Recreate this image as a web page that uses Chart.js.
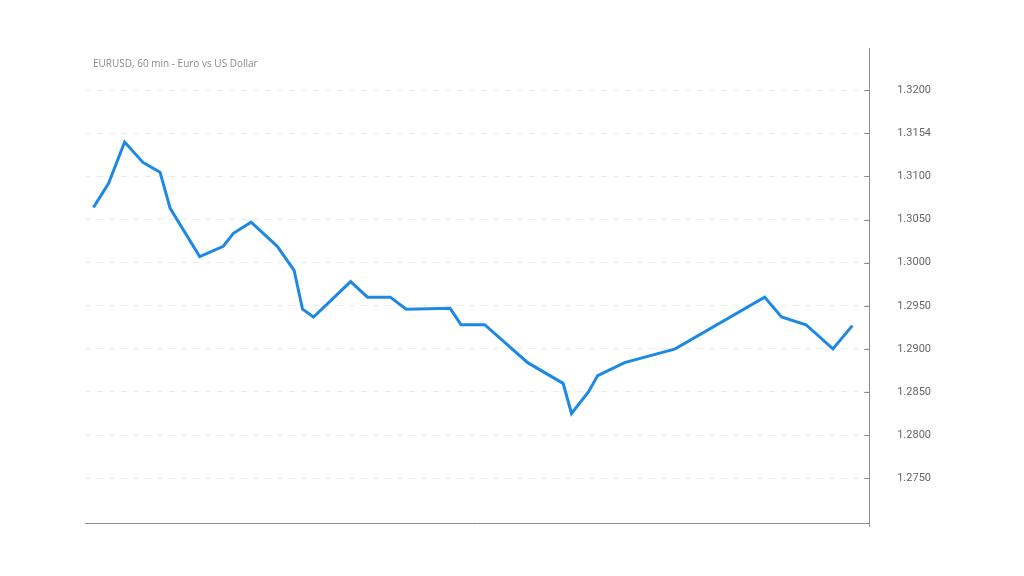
<!DOCTYPE html>
<html>
<head>
<meta charset="utf-8">
<script src="https://cdn.jsdelivr.net/npm/chart.js@4"></script>
<style>
  body { margin: 0; background: #fff; }
  #wrap { width: 1024px; height: 576px; }
</style>
</head>
<body>
<div id="wrap"><canvas id="rateChart" width="1024" height="576"></canvas></div>
<script>
// hours since start of window (uneven sampling)
const hours = [0, 1.8, 3.7, 5.9, 7.9, 9.1, 12.6, 15.4, 16.6, 18.7, 21.8, 23.8, 24.8, 26.1,
  30.5, 32.5, 35.2, 37.1, 42.3, 43.6, 46.4, 51.5, 55.7, 56.7, 58.7, 59.8, 63, 69,
  79.6, 81.6, 84.5, 87.7, 90];
const rates = [1.3064, 1.3092, 1.3140, 1.3116, 1.3105, 1.3063, 1.3007, 1.3019, 1.3034, 1.3047,
  1.3019, 1.2991, 1.2946, 1.2937, 1.2978, 1.2960, 1.2960, 1.2946, 1.2947, 1.2928,
  1.2928, 1.2884, 1.2860, 1.2825, 1.2850, 1.2869, 1.2884, 1.2900, 1.2960, 1.2937,
  1.2928, 1.2900, 1.2927];
const tickValues = [1.3200, 1.3150, 1.3100, 1.3050, 1.3000, 1.2950, 1.2900, 1.2850, 1.2800, 1.2750];
const tickLabels = ['1.3200', '1.3154', '1.3100', '1.3050', '1.3000', '1.2950', '1.2900', '1.2850', '1.2800', '1.2750'];
const chartTitle = 'EURUSD, 60 min - Euro vs US Dollar';

const axisColor = '#8c8c8c';
const gridColor = '#ebebeb';

// title sits inside the plot, plus little tick marks left of the price axis
const extras = {
  id: 'extras',
  afterDraw(chart) {
    const ctx = chart.ctx, area = chart.chartArea, y = chart.scales.y;
    ctx.save();
    ctx.font = '10px "Open Sans"';
    ctx.fillStyle = '#8a8a8a';
    ctx.textBaseline = 'middle';
    ctx.textAlign = 'left';
    ctx.fillText(chartTitle, area.left + 8, area.top + 16);
    ctx.strokeStyle = axisColor;
    ctx.lineWidth = 1;
    y.ticks.forEach(t => {
      const py = Math.round(y.getPixelForValue(t.value)) + 0.5;
      ctx.beginPath();
      ctx.moveTo(area.right - 5, py);
      ctx.lineTo(area.right, py);
      ctx.stroke();
    });
    ctx.beginPath();
    ctx.moveTo(area.right + 0.5, area.bottom);
    ctx.lineTo(area.right + 0.5, area.bottom + 4);
    ctx.stroke();
    ctx.restore();
  }
};

new Chart(document.getElementById('rateChart'), {
  type: 'line',
  data: {
    datasets: [{
      data: hours.map((h, i) => ({ x: h, y: rates[i] })),
      borderColor: '#1e88e5',
      borderWidth: 3,
      pointRadius: 0,
      tension: 0,
      fill: false
    }]
  },
  plugins: [extras],
  options: {
    responsive: false,
    animation: false,
    layout: { padding: { left: 85, right: 65, top: 48, bottom: 53 } },
    plugins: { legend: { display: false }, tooltip: { enabled: false } },
    scales: {
      x: {
        type: 'linear',
        min: -1,
        max: 92,
        ticks: { display: false },
        grid: { display: false, drawTicks: false },
        border: { display: true, color: axisColor, width: 1 }
      },
      y: {
        position: 'right',
        min: 1.2698,
        max: 1.3249,
        afterBuildTicks(scale) {
          scale.ticks = tickValues.map(v => ({ value: v }));
        },
        ticks: {
          padding: 28,
          color: '#666',
          font: { family: 'Roboto', size: 11 },
          callback: (v, i) => tickLabels[i]
        },
        grid: {
          drawTicks: false,
          color: gridColor,
          lineWidth: 1
        },
        border: { display: true, color: axisColor, width: 1, dash: [6, 6] }
      }
    }
  }
});
</script>
</body>
</html>
